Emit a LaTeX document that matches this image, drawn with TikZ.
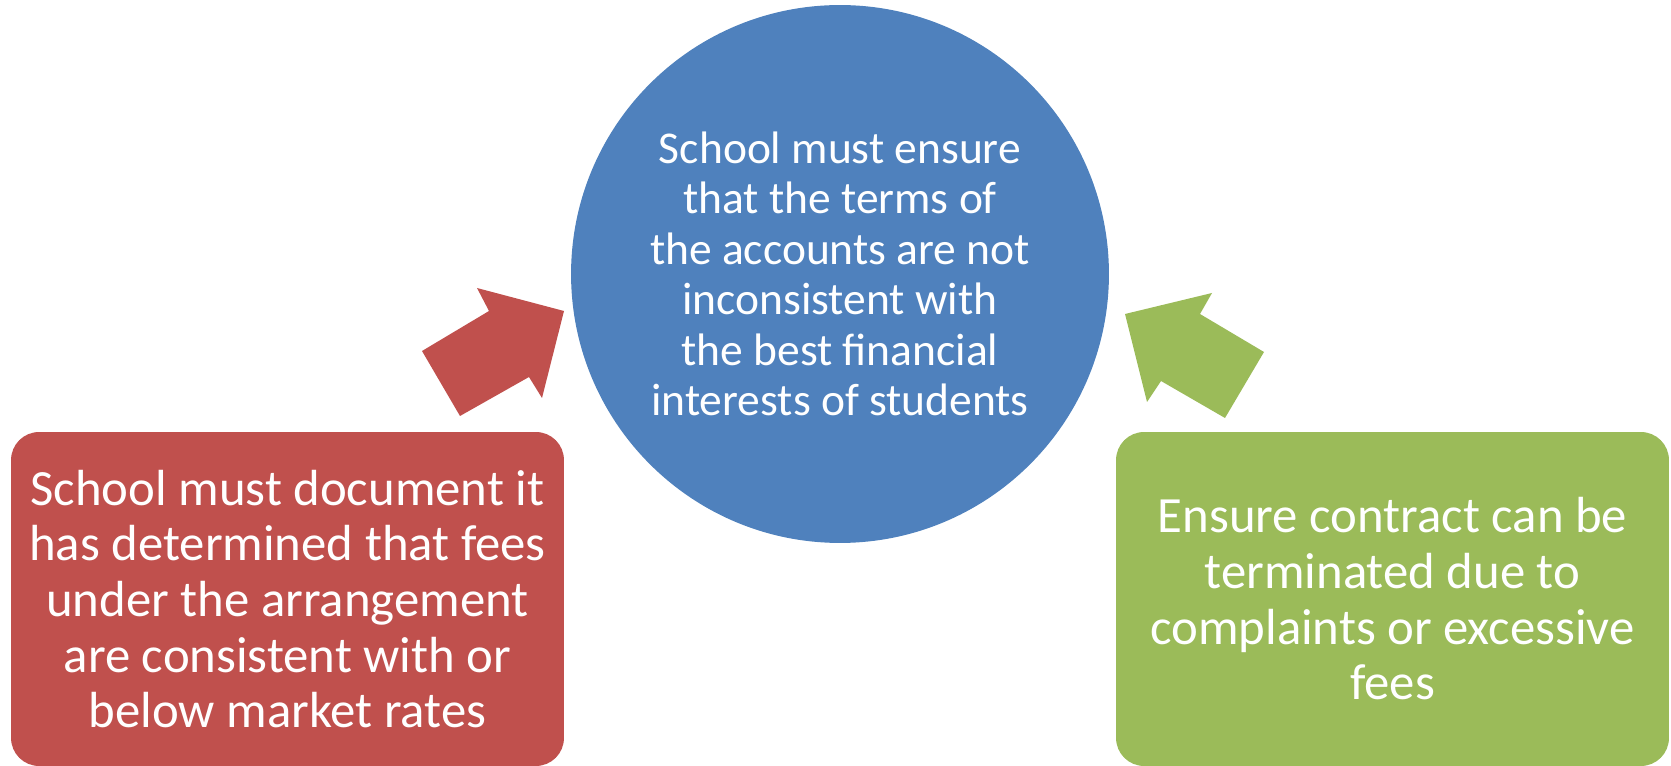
\documentclass[tikz,border=0pt]{standalone}
\usepackage{fontspec}
\setmainfont{Carlito}
\definecolor{cblue}{HTML}{4F81BD}
\definecolor{cred}{HTML}{C0504D}
\definecolor{cgreen}{HTML}{9BBB59}
\tikzset{
  sidebox/.style={draw=none, rounded corners=0.56cm, minimum width=11.06cm, minimum height=6.68cm,
    inner sep=0pt, text=white, align=center, font=\fontsize{28.9}{31.7}\selectfont},
  hub/.style={circle, fill=cblue, minimum size=10.76cm, inner sep=0pt, text=white, align=center,
    font=\fontsize{25.9}{28.7}\selectfont}
}
\begin{document}
\begin{tikzpicture}[x=0.02cm, y=-0.02cm]
\useasboundingbox (0,0) rectangle (1671,766);
\node[hub] (c) at (840,274) {School must ensure\\that the terms of\\the accounts are not\\inconsistent with\\the best financial\\interests of students};
\node[sidebox, fill=cred] (l) at (287.5,599) {School must document it\\has determined that fees\\under the arrangement\\are consistent with or\\below market rates};
\node[sidebox, fill=cgreen] (r) at (1392.5,599) {Ensure contract can be\\terminated due to\\complaints or excessive\\fees};
\fill[cred] (422,351) -- (460,416) -- (529,377) -- (542,398) -- (564,311) -- (477,288) -- (489,311) -- cycle;
\fill[cgreen] (1264,352) -- (1225,418) -- (1161,381) -- (1147,402) -- (1125,314) -- (1212,293) -- (1200,314) -- cycle;
\end{tikzpicture}
\end{document}
